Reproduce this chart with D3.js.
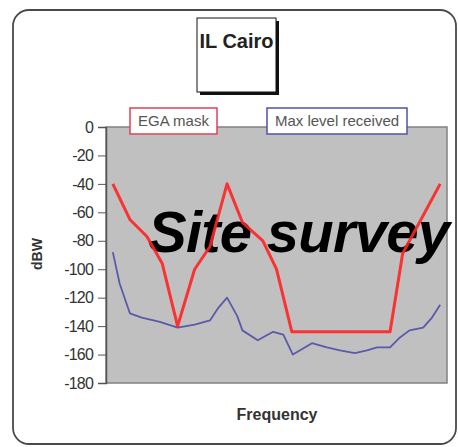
<!DOCTYPE html>
<html>
<head>
<meta charset="utf-8">
<script src="https://cdn.jsdelivr.net/npm/d3@7"></script>
<style>
  body { margin: 0; background: #fff; }
  svg { display: block; font-family: "Liberation Sans", Arial, sans-serif; }
</style>
</head>
<body>
<div id="chart"></div>
<script>
// frequency positions (no axis ticks on x), 0..100 across the plot
const maskFreq = [2, 7, 12, 16.5, 21, 26, 30.5, 35.5, 40, 46, 50, 54.5, 83.3, 87, 98];
const maskLevel = [-40, -65, -77, -96, -140, -100, -84, -40, -67, -80, -100, -144, -144, -89, -40];

const recvFreq = [2, 4, 7, 10.5, 15.8, 21, 26, 30.5, 33, 35.5, 38.5, 40, 44.5, 49, 52, 54.8,
                  60.4, 64.8, 68.6, 73, 76.5, 79.5, 83.3, 86.2, 89, 93, 95.6, 98];
const recvLevel = [-88, -110, -131, -134, -137, -141, -139, -136, -127, -120, -133, -143, -150, -144, -146, -160,
                   -152, -155, -157, -159, -157, -155, -155, -148, -143, -141, -134, -125];

const yTicks = [0, -20, -40, -60, -80, -100, -120, -140, -160, -180];
const seriesNames = ["EGA mask", "Max level received"];

function drawChart() {
    let width = 458, height = 447;
    let margin = {top: 127, right: 11, bottom: 64, left: 106};
    let w = width - margin.left - margin.right;
    let h = height - margin.top - margin.bottom;

    let svg = d3.select("#chart").append("svg")
        .attr("width", width)
        .attr("height", height);

    // outer frame of the chart object
    svg.append("rect")
        .attr("x", 13).attr("y", 10)
        .attr("width", 443).attr("height", 434)
        .attr("rx", 16).attr("ry", 16)
        .attr("fill", "#fff")
        .attr("stroke", "#4a4a4a")
        .attr("stroke-width", 1.8);

    let x = d3.scaleLinear().domain([0, 100]).range([0, w]);
    let y = d3.scaleLinear().domain([-180, 0]).range([h, 0]);

    let plot = svg.append("g")
        .attr("transform", "translate(" + margin.left + "," + margin.top + ")");

    plot.append("rect")
        .attr("width", w).attr("height", h)
        .attr("fill", "#c0c0c0")
        .attr("stroke", "#808080")
        .attr("stroke-width", 1.5);

    let yAxis = plot.append("g")
        .call(d3.axisLeft(y).tickValues(yTicks).tickSize(8).tickPadding(5)
            .tickFormat(d => String(d)));
    yAxis.select(".domain").attr("stroke", "#555").attr("stroke-width", 1.5);
    yAxis.selectAll(".tick line").attr("stroke", "#555");
    yAxis.selectAll("text")
        .attr("font-size", 16)
        .attr("fill", "#333")
        .attr("letter-spacing", -0.8);

    // overlaid stamp, sits under the series lines
    svg.append("text")
        .attr("x", 148).attr("y", 252)
        .attr("font-size", 58)
        .attr("font-weight", "bold")
        .attr("font-style", "italic")
        .attr("fill", "#000")
        .attr("textLength", 302)
        .text("Site survey");

    let lines = svg.append("g")
        .attr("transform", "translate(" + margin.left + "," + margin.top + ")");

    let line = d3.line()
        .x(d => x(d[0]))
        .y(d => y(d[1]));

    lines.append("path")
        .datum(d3.zip(recvFreq, recvLevel))
        .attr("fill", "none")
        .attr("stroke", "#4848a8")
        .attr("stroke-opacity", 0.85)
        .attr("stroke-width", 1.8)
        .attr("stroke-linejoin", "round")
        .attr("d", line);

    lines.append("path")
        .datum(d3.zip(maskFreq, maskLevel))
        .attr("fill", "none")
        .attr("stroke", "#f22")
        .attr("stroke-opacity", 0.9)
        .attr("stroke-width", 3)
        .attr("stroke-linejoin", "round")
        .attr("d", line);

    // legend boxes
    let legend = [
        {name: seriesNames[0], x: 130, w: 87, color: "#e0405a"},
        {name: seriesNames[1], x: 267, w: 140, color: "#5050b0"}
    ];
    legend.forEach(function(l) {
        svg.append("rect")
            .attr("x", l.x).attr("y", 108)
            .attr("width", l.w).attr("height", 26)
            .attr("fill", "#fff")
            .attr("stroke", l.color)
            .attr("stroke-width", 1.5);
        svg.append("text")
            .attr("x", l.x + l.w / 2).attr("y", 126)
            .attr("text-anchor", "middle")
            .attr("font-size", 15)
            .attr("fill", "#555")
            .text(l.name);
    });

    // title box with shadow
    svg.append("rect")
        .attr("x", 200).attr("y", 21)
        .attr("width", 79).attr("height", 74)
        .attr("fill", "#111");
    svg.append("rect")
        .attr("x", 197).attr("y", 18)
        .attr("width", 79).attr("height", 74)
        .attr("fill", "#fff")
        .attr("stroke", "#111")
        .attr("stroke-width", 1);
    svg.append("text")
        .attr("x", 236.5).attr("y", 48)
        .attr("text-anchor", "middle")
        .attr("font-size", 20)
        .attr("font-weight", "bold")
        .attr("fill", "#222")
        .text("IL Cairo");

    // axis titles
    svg.append("text")
        .attr("transform", "translate(42,254) rotate(-90)")
        .attr("text-anchor", "middle")
        .attr("font-size", 14)
        .attr("font-weight", "bold")
        .attr("fill", "#333")
        .text("dBW");

    svg.append("text")
        .attr("x", 277).attr("y", 420)
        .attr("text-anchor", "middle")
        .attr("font-size", 16)
        .attr("font-weight", "bold")
        .attr("fill", "#333")
        .text("Frequency");
}

drawChart();
</script>
</body>
</html>
